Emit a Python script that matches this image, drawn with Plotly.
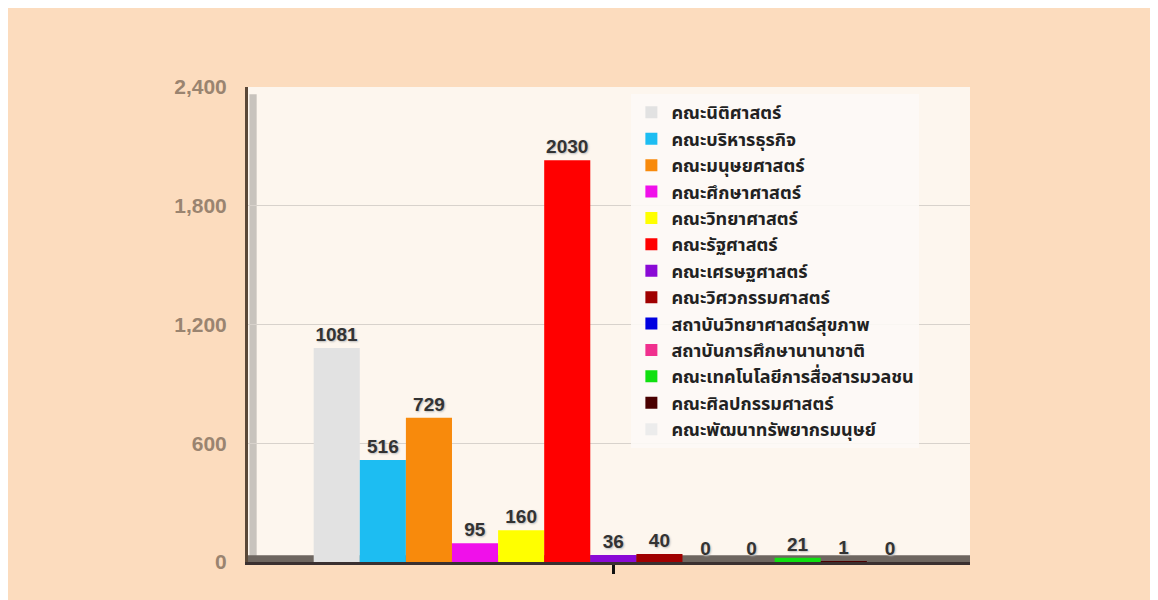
import plotly.graph_objects as go

# Data
faculties = [
    "คณะนิติศาสตร์", "คณะบริหารธุรกิจ", "คณะมนุษยศาสตร์", "คณะศึกษาศาสตร์",
    "คณะวิทยาศาสตร์", "คณะรัฐศาสตร์", "คณะเศรษฐศาสตร์", "คณะวิศวกรรมศาสตร์",
    "สถาบันวิทยาศาสตร์สุขภาพ", "สถาบันการศึกษานานาชาติ",
    "คณะเทคโนโลยีการสื่อสารมวลชน", "คณะศิลปกรรมศาสตร์", "คณะพัฒนาทรัพยากรมนุษย์",
]
counts = [1081, 516, 729, 95, 160, 2030, 36, 40, 0, 0, 21, 1, 0]
colors = [
    "#E2E2E2", "#1DBDF2", "#F88A0C", "#F010EA", "#FFFF00", "#FF0000", "#8A0AD6",
    "#A00000", "#0000E0", "#F0308E", "#10E010", "#4A0000", "#ECECEC",
]
y_ticks = [0, 600, 1200, 1800, 2400]

fig = go.Figure()
for name, val, col in zip(faculties, counts, colors):
    fig.add_trace(go.Bar(
        x=[""], y=[val], name=name,
        marker=dict(color=col, line=dict(width=0)),
        text=[str(val)], textposition="outside", cliponaxis=False,
        textfont=dict(family="Arial, Liberation Sans", size=19, color="#333333",
                      weight="bold", shadow="1px 1px 2px #bbbbbb"),
    ))

fig.update_layout(
    width=1158, height=600,
    margin=dict(l=240, r=196, t=79, b=46),
    paper_bgcolor="#FCDCBE",
    plot_bgcolor="#FDF6EE",
    barmode="group", bargap=0.17, bargroupgap=0,
    showlegend=True,
    legend=dict(x=0.531, y=0.985, xanchor="left", yanchor="top",
                bgcolor="rgba(253,250,246,0.9)", borderwidth=0,
                font=dict(family="Tahoma, Noto Sans Thai, Noto Sans, sans-serif",
                          size=18, color="#222222", weight="bold"),
                itemwidth=30, tracegroupgap=0),
    xaxis=dict(range=[-0.506, 0.494], showgrid=False, ticks="outside", ticklen=9,
               tickwidth=3, tickcolor="#111111", showticklabels=False,
               showline=True, linecolor="#3a3030", linewidth=3),
    yaxis=dict(range=[0, 2400], tickvals=y_ticks, tickformat=",",
               showgrid=True, gridcolor="#D8D2CC", gridwidth=1,
               showline=True, linecolor="#5a4838", linewidth=3,
               zeroline=False, ticks="", ticklabelstandoff=14,
               tickfont=dict(family="Arial, Liberation Sans", size=21,
                             color="#9A8470", weight="bold")),
)

# left wall shading and floor strip
fig.add_shape(type="rect", xref="paper", yref="paper", x0=0.002, x1=0.012, y0=0.0, y1=0.985,
              fillcolor="#C8C3BD", line=dict(width=0), layer="below")
fig.add_shape(type="rect", xref="paper", yref="paper", x0=0.0, x1=1.0, y0=0.0, y1=0.014,
              fillcolor="#6E6660", line=dict(width=0), layer="below")

fig.write_html("out.html")
